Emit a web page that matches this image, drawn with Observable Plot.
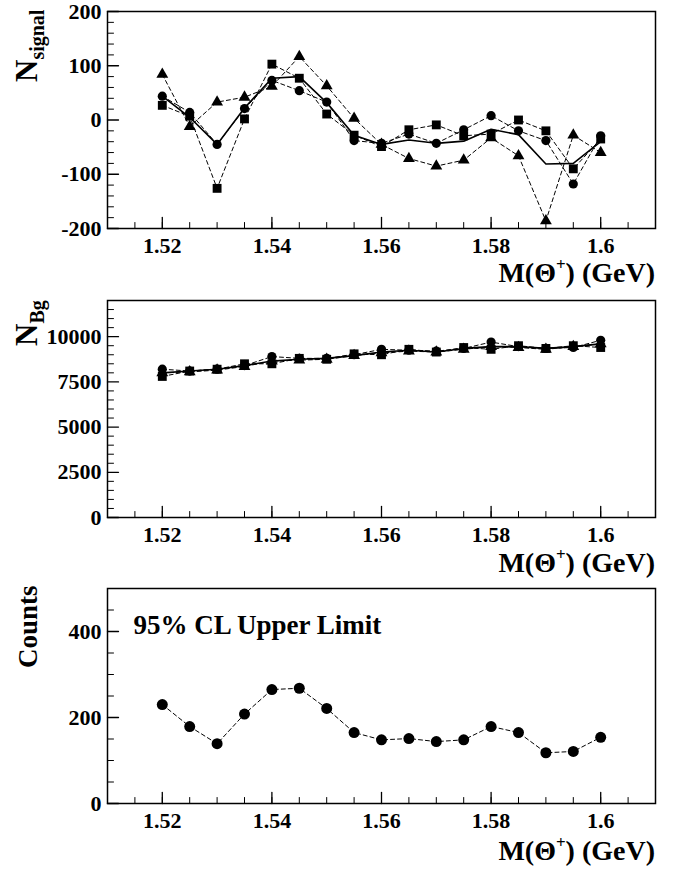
<!DOCTYPE html>
<html><head><meta charset="utf-8">
<script src="https://cdn.jsdelivr.net/npm/d3@7"></script>
<script src="https://cdn.jsdelivr.net/npm/@observablehq/plot@0.6"></script>
<style>
body{margin:0;background:#fff;}
#chart svg{display:block;}
</style></head><body><div id="chart"></div>
<script>
const mass = [1.52,1.525,1.53,1.535,1.54,1.545,1.55,1.555,1.56,1.565,1.57,1.575,1.58,1.585,1.59,1.595,1.6];

const signalCircle   = [44, 14, -45, 21, 73, 54, 33, -38, -43, -26, -43, -18, 8, -20, -38, -118, -29];
const signalSquare   = [27, 7, -126, 2, 103, 77, 11, -28, -49, -18, -9, -29, -26, 0, -20, -90, -35];
const signalTriangle = [84, -12, 33, 42, 62, 117, 63, 3, -45, -71, -85, -74, -33, -66, -186, -28, -60];
const signalMean     = [44, 5, -45, 22, 77, 80, 32, -28, -45, -37, -43, -39, -17, -27, -81, -80, -40];

const bgCircle   = [8200, 8100, 8200, 8400, 8900, 8800, 8800, 9000, 9300, 9250, 9200, 9350, 9700, 9450, 9350, 9400, 9800];
const bgSquare   = [7800, 8100, 8200, 8500, 8500, 8800, 8750, 9050, 9000, 9300, 9150, 9400, 9300, 9500, 9350, 9500, 9400];
const bgTriangle = [8000, 8050, 8150, 8350, 8650, 8700, 8750, 8950, 9100, 9200, 9150, 9300, 9450, 9400, 9300, 9450, 9600];
const bgMean     = [8000, 8100, 8200, 8400, 8650, 8750, 8800, 8950, 9150, 9250, 9150, 9350, 9450, 9450, 9350, 9450, 9600];

const upperLimit = [230, 179, 139, 208, 265, 268, 221, 165, 148, 151, 144, 148, 179, 165, 118, 121, 154];

const xMajorTicks = [1.52, 1.54, 1.56, 1.58, 1.6];
const xMinorTicks = [1.515,1.52,1.525,1.53,1.535,1.54,1.545,1.55,1.555,1.56,1.565,1.57,1.575,1.58,1.585,1.59,1.595,1.6,1.605];

const signalMajorTicks = [-200, -100, 0, 100, 200];
const signalMinorTicks = [-180,-160,-140,-120,-80,-60,-40,-20,20,40,60,80,120,140,160,180];
const bgMajorTicks = [0, 2500, 5000, 7500, 10000];
const bgMinorTicks = [500,1000,1500,2000,3000,3500,4000,4500,5500,6000,6500,7000,8000,8500,9000,9500,10500,11000,11500];
const ulMajorTicks = [0, 200, 400];
const ulMinorTicks = [50,100,150,250,300,350,450];

const font = "'Liberation Serif', 'Times New Roman', Times, serif";
const tickShape = {draw(ctx, l) { ctx.moveTo(0, 0); ctx.lineTo(0, -l); }};

function table(vals) { return mass.map((m, i) => ({m, v: vals[i]})); }

function panel({height, marginTop, marginBottom, yDomain, yMajor, yMinor, series, solid, note}) {
  const marks = [];
  for (const s of series) {
    marks.push(Plot.line(table(s.values), {x: "m", y: "v", stroke: "black", strokeWidth: 1, strokeDasharray: "4,3"}));
  }
  if (solid) marks.push(Plot.line(table(solid), {x: "m", y: "v", stroke: "black", strokeWidth: 1.6}));
  for (const s of series) {
    marks.push(Plot.dot(table(s.values), {x: "m", y: "v", symbol: s.symbol, r: s.r, fill: "black", stroke: null}));
  }
  marks.push(
    Plot.vector(xMinorTicks, {x: d => d, frameAnchor: "bottom", length: 6, rotate: 0, anchor: "start", shape: tickShape, stroke: "black", strokeWidth: 1}),
    Plot.vector(xMajorTicks, {x: d => d, frameAnchor: "bottom", length: 11, rotate: 0, anchor: "start", shape: tickShape, stroke: "black", strokeWidth: 1.3}),
    Plot.vector(yMinor, {y: d => d, frameAnchor: "left", length: 6, rotate: 90, anchor: "start", shape: tickShape, stroke: "black", strokeWidth: 1}),
    Plot.vector(yMajor, {y: d => d, frameAnchor: "left", length: 11, rotate: 90, anchor: "start", shape: tickShape, stroke: "black", strokeWidth: 1.3}),
    Plot.axisX(xMajorTicks, {tickSize: 0, tickPadding: 9, tickFormat: d => String(d), fontSize: 22, fontWeight: "bold", label: null}),
    Plot.axisY(yMajor, {tickSize: 0, tickPadding: 6, tickFormat: d => String(d), fontSize: 22, fontWeight: "bold", label: null}),
    Plot.frame({stroke: "black", strokeWidth: 1.5})
  );
  if (note) {
    marks.push(Plot.text([note], {frameAnchor: "top-left", dx: 26, dy: 37, text: d => d, fontSize: 27, fontWeight: "bold", textAnchor: "start", lineAnchor: "middle"}));
  }
  return Plot.plot({
    width: 676, height, marginTop, marginBottom, marginLeft: 107, marginRight: 21,
    style: {fontFamily: font, background: "white", color: "black"},
    x: {domain: [1.51, 1.61], label: null},
    y: {domain: yDomain, label: null},
    marks
  });
}

function xTitle(svg, baselineY) {
  const t = d3.select(svg).append("text")
    .attr("x", 655).attr("y", baselineY)
    .attr("text-anchor", "end")
    .attr("font-family", font).attr("font-weight", "bold").attr("font-size", 28).attr("fill", "black");
  t.append("tspan").text("M(Θ");
  t.append("tspan").text("+").attr("font-size", 17).attr("dy", -12);
  t.append("tspan").text(") (GeV)").attr("dy", 12);
}

function yTitle(svg, x, y, main, sub) {
  const t = d3.select(svg).append("text")
    .attr("transform", `translate(${x},${y}) rotate(-90)`)
    .attr("text-anchor", "start")
    .attr("font-family", font).attr("font-weight", "bold").attr("font-size", main === "Counts" ? 27 : 31).attr("fill", "black");
  t.append("tspan").text(main);
  if (sub) t.append("tspan").text(sub).attr("font-size", 20).attr("dy", 7);
}

const chart = document.getElementById("chart");

const p1 = panel({
  height: 290, marginTop: 11, marginBottom: 62, yDomain: [-200, 200],
  yMajor: signalMajorTicks, yMinor: signalMinorTicks,
  series: [
    {values: signalCircle, symbol: "circle", r: 4.6},
    {values: signalSquare, symbol: "square", r: 5},
    {values: signalTriangle, symbol: "triangle", r: 4.4}
  ],
  solid: signalMean
});
xTitle(p1, 282);
yTitle(p1, 37, 82, "N", "signal");
chart.appendChild(p1);

const p2 = panel({
  height: 290, marginTop: 10, marginBottom: 63, yDomain: [0, 12000],
  yMajor: bgMajorTicks, yMinor: bgMinorTicks,
  series: [
    {values: bgTriangle, symbol: "triangle", r: 4.4},
    {values: bgSquare, symbol: "square", r: 5},
    {values: bgCircle, symbol: "circle", r: 4.6}
  ],
  solid: bgMean
});
xTitle(p2, 282);
yTitle(p2, 37, 56, "N", "Bg");
chart.appendChild(p2);

const p3 = panel({
  height: 289, marginTop: 8, marginBottom: 66, yDomain: [0, 500],
  yMajor: ulMajorTicks, yMinor: ulMinorTicks,
  series: [{values: upperLimit, symbol: "circle", r: 5.5}],
  note: "95% CL Upper Limit"
});
xTitle(p3, 280);
yTitle(p3, 37, 88, "Counts", null);
chart.appendChild(p3);
</script>
</body></html>
